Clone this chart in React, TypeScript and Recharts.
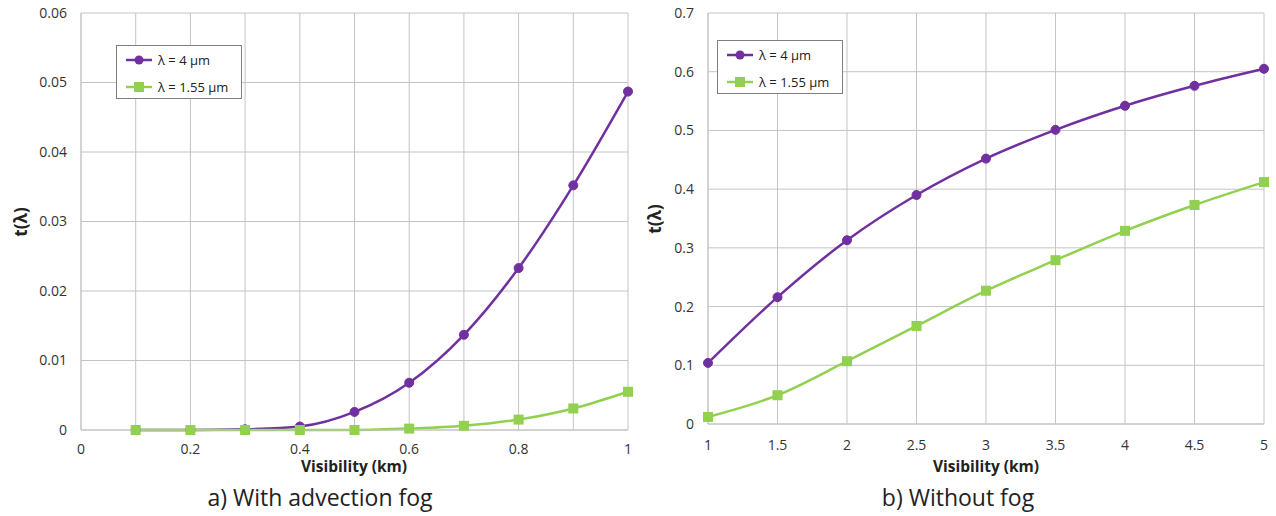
import { LineChart, Line, XAxis, YAxis, CartesianGrid } from 'recharts'

// a) with advection fog
const visFog = [0.1, 0.2, 0.3, 0.4, 0.5, 0.6, 0.7, 0.8, 0.9, 1]
const fog4um = [0, 0, 0.0001, 0.0005, 0.0026, 0.0068, 0.0137, 0.0233, 0.0352, 0.0487]
const fog155um = [0, 0, 0, 0, 0, 0.0002, 0.0006, 0.0015, 0.0031, 0.0055]
const fogXTicks = [0, 0.1, 0.2, 0.3, 0.4, 0.5, 0.6, 0.7, 0.8, 0.9, 1]
const fogYTicks = [0, 0.01, 0.02, 0.03, 0.04, 0.05, 0.06]

// b) without fog
const visClear = [1, 1.5, 2, 2.5, 3, 3.5, 4, 4.5, 5]
const clear4um = [0.104, 0.216, 0.313, 0.39, 0.452, 0.501, 0.542, 0.576, 0.605]
const clear155um = [0.012, 0.049, 0.107, 0.167, 0.227, 0.279, 0.329, 0.373, 0.412]
const clearXTicks = [1, 1.5, 2, 2.5, 3, 3.5, 4, 4.5, 5]
const clearYTicks = [0, 0.1, 0.2, 0.3, 0.4, 0.5, 0.6, 0.7]

const PURPLE = '#7030A0'
const GREEN = '#92D050'
const GRID = '#C4C4C4'
const FONT = "'Open Sans', sans-serif"

const fogData = visFog.map((x, i) => ({ x, a: fog4um[i], b: fog155um[i] }))
const clearData = visClear.map((x, i) => ({ x, a: clear4um[i], b: clear155um[i] }))

const tickStyle = { fontSize: 14, fill: '#333', fontFamily: FONT }

const SquareDot = (props: any) => {
    const { cx, cy } = props
    if (cx == null || cy == null) return null
    return <rect key={`sq-${cx}`} x={cx - 5} y={cy - 5} width={10} height={10} fill={GREEN} />
}

function LegendBox({ left, top }: { left: number, top: number }) {
    const row = (color: string, label: string, square: boolean) => (
        <div style={{ display: 'flex', alignItems: 'center', height: 27 }}>
            <svg width={26} height={12} style={{ marginRight: 6 }}>
                <line x1={0} y1={6} x2={26} y2={6} stroke={color} strokeWidth={2.5} />
                {square
                    ? <rect x={8} y={1} width={10} height={10} fill={color} />
                    : <circle cx={13} cy={6} r={4.5} fill={color} />}
            </svg>
            <span>{label}</span>
        </div>
    )
    return (
        <div style={{
            position: 'absolute', left, top, width: 115, height: 52,
            border: '1px solid #7F7F7F', background: '#fff', boxSizing: 'content-box',
            fontFamily: FONT, fontSize: 13, color: '#222', padding: '0 0 0 9px'
        }}>
            {row(PURPLE, 'λ = 4 µm', false)}
            {row(GREEN, 'λ = 1.55 µm', true)}
        </div>
    )
}

const abs = (style: React.CSSProperties): React.CSSProperties => ({ position: 'absolute', fontFamily: FONT, color: '#222', whiteSpace: 'nowrap', ...style })

export default function App() {
    return (
        <div style={{ position: 'absolute', left: 0, top: 0, width: 1276, height: 516, background: '#fff' }}>
            <div style={{ position: 'absolute', left: 0, top: 0 }}>
                <LineChart width={640} height={516} data={fogData}
                    margin={{ top: 13, right: 12, left: 21, bottom: 56 }}>
                    <CartesianGrid stroke={GRID} strokeWidth={1} />
                    <XAxis dataKey="x" type="number" domain={[0, 1]} ticks={fogXTicks}
                        tickFormatter={(v, i) => (i % 2 === 0 ? String(v) : '')}
                        tick={tickStyle} tickLine={false} axisLine={{ stroke: GRID }}
                        height={30} tickMargin={8} interval={0} />
                    <YAxis type="number" domain={[0, 0.06]} ticks={fogYTicks}
                        tick={tickStyle} tickLine={false} axisLine={{ stroke: GRID }}
                        width={60} tickMargin={8} interval={0} />
                    <Line type="monotone" dataKey="a" stroke={PURPLE} strokeWidth={2.5}
                        dot={{ r: 4.5, fill: PURPLE, stroke: PURPLE, strokeWidth: 1 }}
                        activeDot={false} isAnimationActive={false} />
                    <Line type="monotone" dataKey="b" stroke={GREEN} strokeWidth={2.5}
                        dot={SquareDot} activeDot={false} isAnimationActive={false} />
                </LineChart>
                <LegendBox left={116} top={45} />
            </div>
            <div style={{ position: 'absolute', left: 640, top: 0 }}>
                <LineChart width={636} height={516} data={clearData}
                    margin={{ top: 13, right: 12, left: 18, bottom: 62 }}>
                    <CartesianGrid stroke={GRID} strokeWidth={1} />
                    <XAxis dataKey="x" type="number" domain={[1, 5]} ticks={clearXTicks}
                        tick={tickStyle} tickLine={false} axisLine={{ stroke: GRID }}
                        height={30} tickMargin={10} interval={0} />
                    <YAxis type="number" domain={[0, 0.7]} ticks={clearYTicks}
                        tick={tickStyle} tickLine={false} axisLine={{ stroke: GRID }}
                        width={50} tickMargin={8} interval={0} />
                    <Line type="monotone" dataKey="a" stroke={PURPLE} strokeWidth={2.5}
                        dot={{ r: 4.5, fill: PURPLE, stroke: PURPLE, strokeWidth: 1 }}
                        activeDot={false} isAnimationActive={false} />
                    <Line type="monotone" dataKey="b" stroke={GREEN} strokeWidth={2.5}
                        dot={SquareDot} activeDot={false} isAnimationActive={false} />
                </LineChart>
                <LegendBox left={77} top={40} />
            </div>

            <div style={abs({ left: 20, top: 222, transform: 'translate(-50%, -50%) rotate(-90deg)', fontWeight: 700, fontSize: 17 })}>t(λ)</div>
            <div style={abs({ left: 654, top: 219, transform: 'translate(-50%, -50%) rotate(-90deg)', fontWeight: 700, fontSize: 17 })}>t(λ)</div>

            <div style={abs({ left: 354, top: 466, transform: 'translate(-50%, -50%)', fontWeight: 700, fontSize: 15.5 })}>Visibility (km)</div>
            <div style={abs({ left: 986, top: 466, transform: 'translate(-50%, -50%)', fontWeight: 700, fontSize: 15.5 })}>Visibility (km)</div>

            <div style={abs({ left: 320, top: 497, transform: 'translate(-50%, -50%)', fontSize: 23 })}>a) With advection fog</div>
            <div style={abs({ left: 958, top: 497, transform: 'translate(-50%, -50%)', fontSize: 23 })}>b) Without fog</div>
        </div>
    )
}
